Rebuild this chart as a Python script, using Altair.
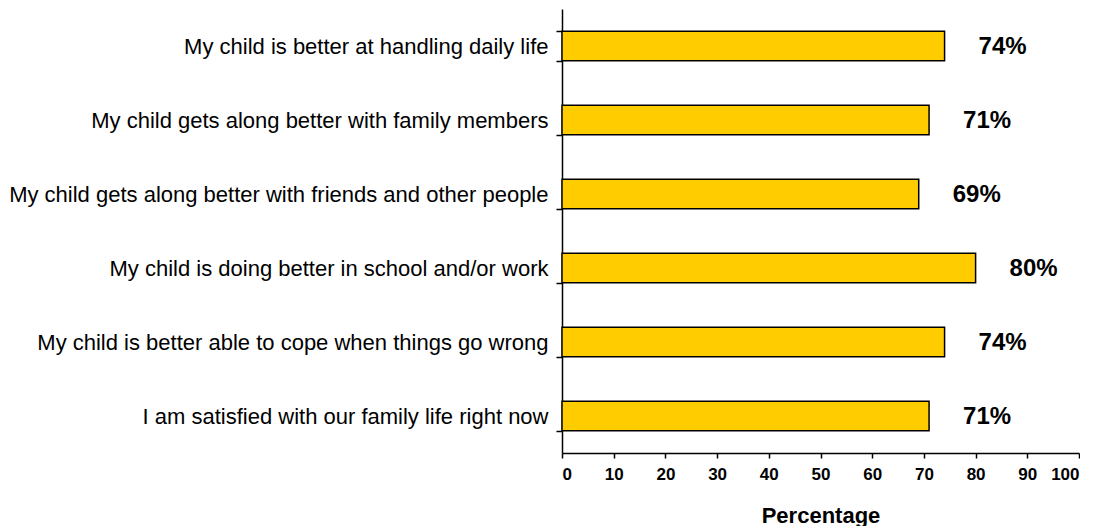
import altair as alt
import pandas as pd

categories = [
    "My child is better at handling daily life",
    "My child gets along better with family members",
    "My child gets along better with friends and other people",
    "My child is doing better in school and/or work",
    "My child is better able to cope when things go wrong",
    "I am satisfied with our family life right now",
]
values = [74, 71, 69, 80, 74, 71]
labels = [f"{v}%" for v in values]

df = pd.DataFrame({"cat": categories, "val": values, "label": labels})

y_enc = alt.Y(
    "cat:N",
    sort=categories,
    title=None,
    scale=alt.Scale(paddingInner=0.6, paddingOuter=0.3),
    axis=alt.Axis(
        tickBand="extent",
        labelFont="Liberation Sans",
        labelFontSize=22,
        labelColor="black",
        labelPadding=8,
        labelLimit=700,
        tickSize=6,
        tickColor="black",
        domainColor="black",
        domainWidth=1.5,
        tickWidth=1.5,
    ),
)

x_enc = alt.X(
    "val:Q",
    title="Percentage",
    scale=alt.Scale(domain=[0, 100], nice=False),
    axis=alt.Axis(
        values=list(range(0, 101, 10)),
        grid=False,
        labelFont="Liberation Sans",
        labelFontSize=17,
        labelFontWeight="bold",
        labelColor="black",
        labelPadding=8,
        tickSize=5,
        tickColor="black",
        tickWidth=1.5,
        domainColor="black",
        domainWidth=1.5,
        titleFont="Liberation Sans",
        titleFontSize=22,
        titleFontWeight="bold",
        titleColor="black",
        titlePadding=23,
    ),
)

bars = alt.Chart(df).mark_bar(
    color="#FFCC00", stroke="black", strokeWidth=1.5
).encode(x=x_enc, y=y_enc)

text = alt.Chart(df).mark_text(
    align="left", baseline="middle", dx=34, dy=1,
    font="Liberation Sans", fontSize=24, fontWeight="bold", color="black"
).encode(x="val:Q", y=alt.Y("cat:N", sort=categories), text="label:N")

chart = (
    alt.layer(bars, text)
    .properties(width=517, height=444, padding={"top": -10, "left": 0, "right": 0, "bottom": 0})
    .configure_view(stroke=None)
)

chart.save("out.html", embed_options={"renderer": "svg", "actions": False})
